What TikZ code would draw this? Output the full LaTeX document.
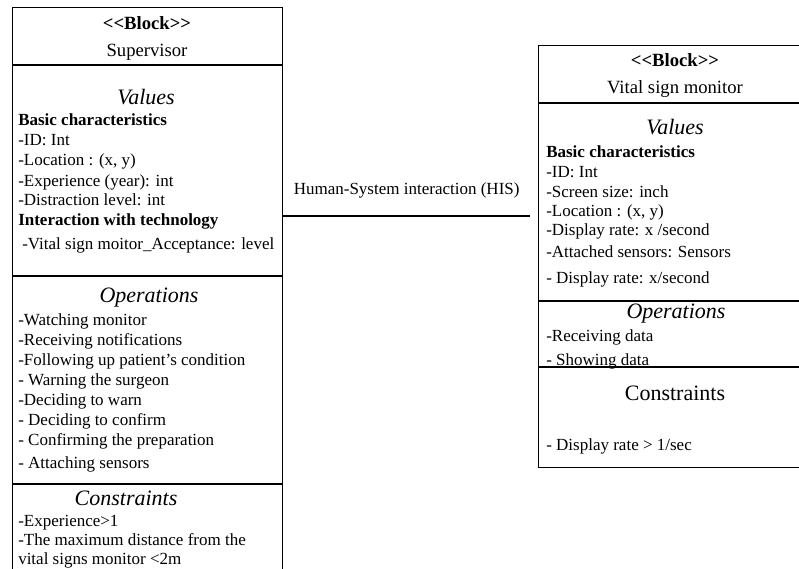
\documentclass[tikz,border=0pt]{standalone}
\usepackage{fontspec}
\setmainfont{Liberation Serif}
\usepackage{tikz}
\usetikzlibrary{calc}
\newcommand\stereo[1]{<\kern0pt<#1>\kern0pt>}
\tikzset{
	blockbox/.style={draw, line width=1pt, rectangle, inner sep=0pt, anchor=north west},
	txt/.style={anchor=base west, inner sep=0pt, font=\fontsize{12.75}{15}\selectfont},
	bold/.style={anchor=base west, inner sep=0pt, font=\fontsize{12.75}{15}\selectfont\bfseries},
	title/.style={anchor=base, inner sep=0pt, font=\fontsize{14}{16}\selectfont},
	compart/.style={anchor=base, inner sep=0pt, font=\fontsize{16.5}{18}\selectfont\itshape}
}
\tikzstyle{sep} = [draw, line width=1pt]

\begin{document}
\begin{tikzpicture}[x=0.75pt, y=-0.75pt]
\useasboundingbox (0,0) rectangle (799,568);

% Blocks
\node[blockbox, minimum width=202.5pt, minimum height=440pt] (sup) at (12,7) {};
\node[blockbox, minimum width=205.5pt, minimum height=316.5pt] (vsm) at (538,45) {};

% Compartments
\foreach \y in {65,276,484}
	\draw[sep] (sup.west |- 0,\y) -- (sup.east |- 0,\y);
\foreach \y in {103,301,367}
	\draw[sep] (vsm.west |- 0,\y) -- (vsm.east |- 0,\y);

% Supervisor
\node[title, font=\fontsize{14}{16}\selectfont\bfseries] (sup-st) at (147,29) {\stereo{Block}};
\node[title] (sup-name) at (147,56) {Supervisor};
\node[compart] (sup-val) at (146,104) {Values};
\node[bold] (sup-basic) at (18,125) {Basic characteristics};
\foreach \y/\t in {145/{-ID: Int}, 165/{-Location : (x, y)}, 186/{-Experience (year): int}, 205/{-Distraction level: int}}
	\node[txt] (sup-v\y) at (18,\y) {\t};
\node[bold] (sup-tech) at (18,225) {Interaction with technology};
\node[txt] (sup-acc) at (22,249) {-Vital sign moitor\_Acceptance: level};
\node[compart] (sup-op) at (149,302) {Operations};
\foreach \y/\t in {325/{-Watching monitor}, 345/{-Receiving notifications}, 365/{-Following up patient's condition}, 385/{- Warning the surgeon}, 405/{-Deciding to warn}, 425/{- Deciding to confirm}, 445/{- Confirming the preparation}, 468/{- Attaching sensors}}
	\node[txt] (sup-o\y) at (18,\y) {\t};
\node[compart] (sup-con) at (126,505) {Constraints};
\foreach \y/\t in {526/{-Experience>1}, 545/{-The maximum distance from the}, 564/{vital signs monitor <2m}}
	\node[txt] (sup-c\y) at (18,\y) {\t};

% Vital sign monitor
\node[title, font=\fontsize{14}{16}\selectfont\bfseries] (vsm-st) at (675,66) {\stereo{Block}};
\node[title] (vsm-name) at (675,93) {Vital sign monitor};
\node[compart] (vsm-val) at (675,134) {Values};
\node[bold] (vsm-basic) at (546,157) {Basic characteristics};
\foreach \y/\t in {177/{-ID: Int}, 197/{-Screen size: inch}, 216/{-Location : (x, y)}, 235/{-Display rate: x /second}, 257/{-Attached sensors: Sensors}, 283/{- Display rate: x/second}}
	\node[txt] (vsm-v\y) at (546,\y) {\t};
\node[compart] (vsm-op) at (676,318) {Operations};
\node[txt] (vsm-o1) at (546,341) {-Receiving data};
\node[txt] (vsm-o2) at (546,365) {- Showing data};
\node[compart, font=\fontsize{16.5}{18}\selectfont] (vsm-con) at (675,400) {Constraints};
\node[txt] (vsm-c1) at (546,450) {- Display rate > 1/sec};

% Connector
\coordinate (hisend) at (530,216);
\draw[line width=1pt] (sup.east |- hisend) -- node[above=13pt, inner sep=0pt, font=\fontsize{12.75}{15}\selectfont] (his) {Human-System interaction (HIS)} (hisend);

\end{tikzpicture}
\end{document}
